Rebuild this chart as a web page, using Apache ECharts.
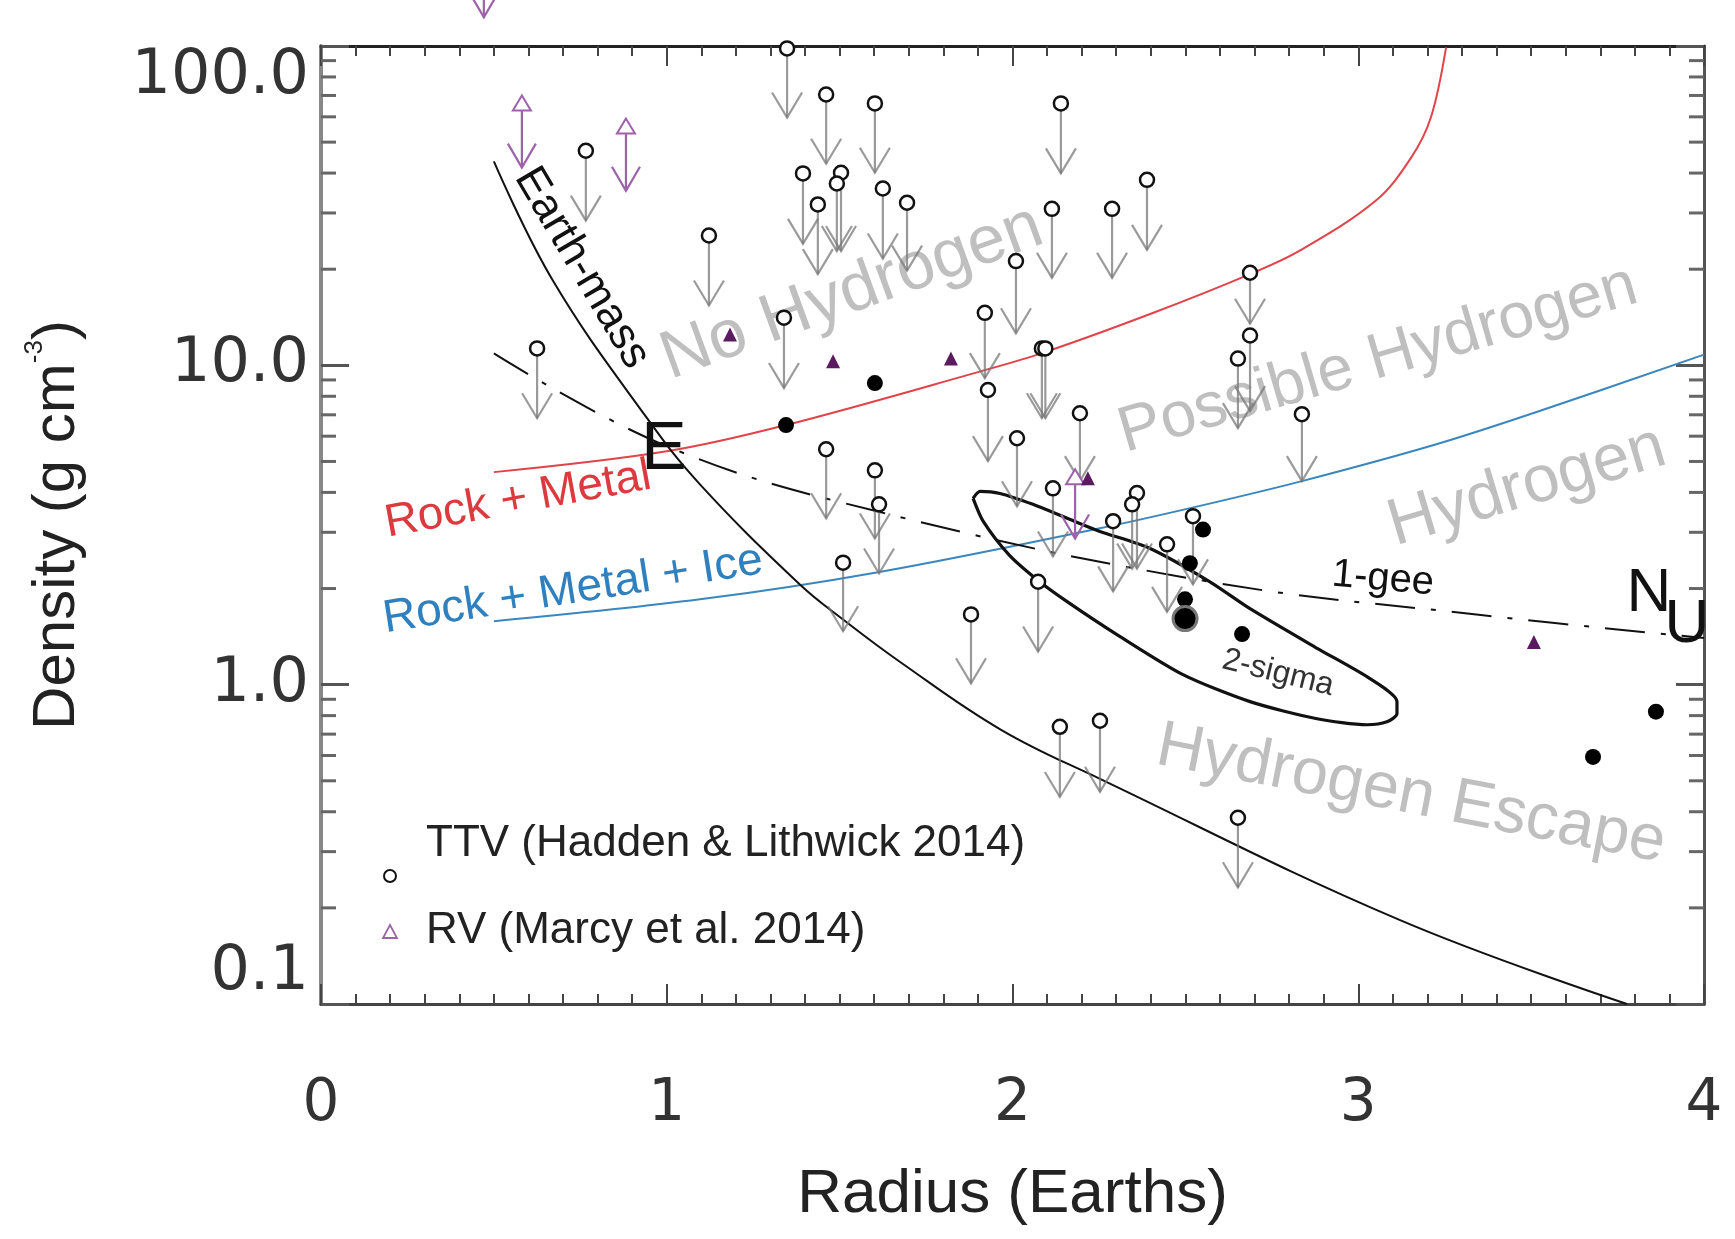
<!DOCTYPE html>
<html>
<head>
<meta charset="utf-8">
<style>
  html, body { margin: 0; padding: 0; background: #fff; }
  #chart { width: 1735px; height: 1239px; }
</style>
<script src="https://cdn.jsdelivr.net/npm/echarts@6/dist/echarts.min.js"></script>
</head>
<body>
<div id="chart"></div>
<script>
// TTV planets: radius, upper-limit density (circle) and where the arrow ends
const ttvRadius  = [0.625, 0.766, 1.122, 1.339, 1.348, 1.461, 1.394, 1.437, 1.504, 1.492, 1.602, 1.625, 1.695,
                    2.140, 2.114, 2.288, 2.389, 2.010, 1.920, 1.929, 2.085, 2.095, 2.687, 2.687, 2.652, 2.837,
                    2.195, 2.013, 1.461, 1.602, 1.614, 1.510, 1.880, 2.074, 2.117, 2.360, 2.346, 2.291, 2.447,
                    2.522, 2.137, 2.253, 2.652];
const ttvDensity = [11.3, 47.0, 25.5, 14.1, 98.3, 70.5, 39.9, 31.9, 40.1, 37.1, 66.1, 35.8, 32.3,
                    66.1, 30.9, 30.9, 38.1, 21.2, 14.6, 8.37, 11.3, 11.3, 19.5, 12.4, 10.5, 7.03,
                    7.08, 5.91, 5.46, 4.69, 3.67, 2.41, 1.66, 2.10, 4.12, 3.98, 3.67, 3.25, 2.75,
                    3.37, 0.738, 0.771, 0.383];
const ttvLimit   = [6.83, 28.4, 15.4, 8.49, 59.7, 42.8, 24.0, 19.3, 22.8, 22.8, 40.1, 21.6, 19.8,
                    39.9, 18.8, 18.8, 23.0, 12.6, 9.12, 5.01, 6.83, 6.83, 13.5, 7.19, 6.36, 4.34,
                    4.34, 3.62, 3.32, 2.87, 2.23, 1.47, 1.01, 1.27, 2.52, 2.31, 2.31, 1.96, 1.69,
                    2.06, 0.445, 0.462, 0.232];

// measured planets (filled circles)
const solidRadius  = [1.345, 1.602, 2.551, 2.513, 2.499, 2.664, 3.861, 3.679];
const solidDensity = [6.50, 8.80, 3.06, 2.40, 1.85, 1.44, 0.823, 0.594];
const ringRadius  = [2.499];
const ringDensity = [1.61];

// RV planets (Marcy et al. 2014)
const rvRadius  = [1.183, 1.481, 1.822, 2.218, 3.508];
const rvDensity = [12.5, 10.3, 10.5, 4.43, 1.36];
const rvBarRadius = [0.471, 0.581, 0.882, 2.181];
const rvBarTop    = [200, 69.0, 58.4, 4.66];
const rvBarBottom = [123, 41.6, 35.2, 2.87];

// model curves
const rockMetalR   = [0.500, 1.000, 1.345, 1.920, 2.090, 2.400, 2.687, 2.832, 3.051, 3.153, 3.210, 3.254];
const rockMetalRho = [4.63, 5.38, 6.50, 9.66, 10.96, 14.5, 19.3, 22.9, 32.8, 44.7, 59.7, 99.0];
const iceR   = [0.500, 1.096, 1.611, 2.253, 2.542, 2.837, 3.216, 3.505, 4.000];
const iceRho = [1.58, 1.85, 2.25, 3.09, 3.63, 4.34, 5.62, 7.08, 10.8];
const earthMassR   = [0.500, 0.671, 0.943, 1.096, 1.385, 1.510, 1.674, 1.967, 2.253, 3.121, 3.777];
const earthMassRho = [43.5, 18.4, 6.83, 4.24, 2.06, 1.60, 1.18, 0.722, 0.507, 0.183, 0.100];
const oneGeeR   = [0.500, 1.000, 1.608, 2.571, 3.361, 4.000];
const oneGeeRho = [10.9, 5.58, 3.49, 2.10, 1.65, 1.40];
const sigmaR   = [1.886, 1.906, 1.964, 2.059, 2.158, 2.253, 2.398, 2.571, 2.687, 2.881, 3.034, 3.112,
                  3.112, 3.083, 3.025, 2.881, 2.687, 2.493, 2.302, 2.158, 2.074, 1.990, 1.915, 1.886];
const sigmaRho = [3.83, 4.03, 3.97, 3.67, 3.32, 3.02, 2.67, 2.10, 1.73, 1.30, 1.044, 0.885,
                  0.811, 0.765, 0.749, 0.782, 0.885, 1.075, 1.435, 1.82, 2.12, 2.55, 3.25, 3.83];

// axis ticks
const xTickLabels = ['0', '1', '2', '3', '4'];
const yMinorTicks = [0.2, 0.3, 0.4, 0.5, 0.6, 0.7, 0.8, 0.9, 2, 3, 4, 5, 6, 7, 8, 9, 20, 30, 40, 50, 60, 70, 80, 90];

const zip = (a, b) => a.map((v, i) => [v, b[i]]);
const SANS = 'Liberation Sans';
const PURPLE = '#9d62a9';
const ARROW = 'rgba(120,120,120,0.75)';

function renderTTV(params, api) {
  const top = api.coord([api.value(0), api.value(1)]);
  const tip = api.coord([api.value(0), api.value(2)]);
  const style = { stroke: ARROW, lineWidth: 2.2, fill: null };
  return {
    type: 'group',
    children: [
      { type: 'line', shape: { x1: top[0], y1: top[1] + 6, x2: tip[0], y2: tip[1] }, style },
      { type: 'polyline', shape: { points: [[tip[0] - 15, tip[1] - 25], [tip[0], tip[1]], [tip[0] + 15, tip[1] - 25]] }, style }
    ]
  };
}

function renderRVBar(params, api) {
  const top = api.coord([api.value(0), api.value(1)]);
  const bot = api.coord([api.value(0), api.value(2)]);
  const style = { stroke: PURPLE, lineWidth: 2.2, fill: null };
  return {
    type: 'group',
    children: [
      { type: 'line', shape: { x1: top[0], y1: top[1] + 12, x2: bot[0], y2: bot[1] }, style },
      { type: 'polyline', shape: { points: [[bot[0] - 14, bot[1] - 24], [bot[0], bot[1]], [bot[0] + 14, bot[1] - 24]] }, style },
      { type: 'polygon', shape: { points: [[top[0], top[1] - 2], [top[0] - 9, top[1] + 13], [top[0] + 9, top[1] + 13]] },
        style: { stroke: PURPLE, lineWidth: 2, fill: '#fff' } }
    ]
  };
}

function renderMinorY(params, api) {
  const cs = params.coordSys;
  const y = api.coord([0, api.value(1)])[1];
  const style = { stroke: '#666', lineWidth: 3 };
  return {
    type: 'group',
    children: [
      { type: 'line', shape: { x1: cs.x, y1: y, x2: cs.x + 15, y2: y }, style },
      { type: 'line', shape: { x1: cs.x + cs.width - 15, y1: y, x2: cs.x + cs.width, y2: y }, style }
    ]
  };
}

function grayText(text, x, y, rot, size) {
  return { type: 'text', x, y, rotation: rot * Math.PI / 180, z: 0,
    style: { text, x: 0, y: 0, align: 'center', verticalAlign: 'middle', font: `${size}px "${SANS}"`, fill: '#bfbfbf' } };
}
function plainText(text, x, y, rot, size, color) {
  return { type: 'text', x, y, rotation: rot * Math.PI / 180, z: 10,
    style: { text, x: 0, y: 0, align: 'center', verticalAlign: 'middle', font: `${size}px "${SANS}"`, fill: color } };
}

const xCommon = {
  type: 'value', min: 0, max: 4, interval: 1,
  axisLine: { onZero: false, lineStyle: { color: '#444', width: 3 } },
  axisTick: { inside: true, length: 20, lineStyle: { color: '#444', width: 2 } },
  minorTick: { show: true, splitNumber: 10, length: 10, lineStyle: { color: '#444', width: 2 } },
  splitLine: { show: false }
};
const yCommon = {
  type: 'log', logBase: 10, min: 0.1, max: 100,
  axisLine: { onZero: false, lineStyle: { color: '#888', width: 4 } },
  axisTick: { inside: true, length: 28, lineStyle: { color: '#555', width: 3 } },
  splitLine: { show: false }
};

const chart = echarts.init(document.getElementById('chart'));
chart.setOption({
  animation: false,
  backgroundColor: '#fff',
  grid: { left: 321, right: 31, top: 46, bottom: 235 },
  xAxis: [
    Object.assign({}, xCommon, {
      position: 'bottom',
      axisLabel: { margin: 72, fontSize: 58, fontFamily: 'DejaVu Sans', color: '#333', formatter: v => xTickLabels[v] },
      name: 'Radius (Earths)', nameLocation: 'middle', nameGap: 160,
      nameTextStyle: { fontSize: 62, fontFamily: SANS, color: '#222' }
    }),
    Object.assign({}, xCommon, { position: 'top', axisLabel: { show: false },
      axisLine: { onZero: false, lineStyle: { color: '#222', width: 3 } } })
  ],
  yAxis: [
    Object.assign({}, yCommon, {
      position: 'left',
      axisLabel: { margin: 12, fontSize: 62, fontFamily: 'DejaVu Sans', color: '#333',
        formatter: v => Number(v).toFixed(1), verticalAlignMaxLabel: 'top', verticalAlignMinLabel: 'bottom' },
      name: '{a|Density (g cm}{b|-3}{a|)}', nameLocation: 'middle', nameGap: 229, nameRotate: 90,
      nameTextStyle: { rich: {
        a: { fontSize: 60, fontFamily: SANS, color: '#222', lineHeight: 70 },
        b: { fontSize: 26, fontFamily: SANS, color: '#222', verticalAlign: 'top', lineHeight: 30 }
      } }
    }),
    Object.assign({}, yCommon, { position: 'right', axisLabel: { show: false },
      axisLine: { onZero: false, lineStyle: { color: '#555', width: 3 } } })
  ],
  graphic: [
    grayText('No Hydrogen', 852, 293, 20, 68),
    grayText('Possible Hydrogen', 1378, 360, 16.3, 64),
    grayText('Hydrogen', 1527, 487, 16.7, 66),
    grayText('Hydrogen Escape', 1411, 795, -11, 65),
    plainText('Rock + Metal', 518, 500, 10.4, 46, '#dc3a3e'),
    plainText('Rock + Metal + Ice', 573, 590, 8.9, 46, '#2f80bf'),
    plainText('Earth-mass', 582, 268, -59.4, 44, '#111'),
    plainText('E', 664, 450, 0, 68, '#111'),
    plainText('N', 1649, 594, 0, 62, '#111'),
    plainText('U', 1687, 625, 0, 62, '#111'),
    plainText('1-gee', 1383, 579, -5, 40, '#111'),
    plainText('2-sigma', 1278, 673, -14, 32, '#333'),
    { type: 'circle', shape: { cx: 390, cy: 876, r: 6 }, style: { fill: '#fff', stroke: '#111', lineWidth: 2 }, z: 10 },
    { type: 'text', x: 426, y: 844, z: 10, style: { text: 'TTV (Hadden & Lithwick 2014)', align: 'left', verticalAlign: 'middle',
      font: `44px "${SANS}"`, fill: '#222' } },
    { type: 'polygon', shape: { points: [[390, 925], [383, 938], [397, 938]] }, style: { fill: '#fff', stroke: PURPLE, lineWidth: 1.8 }, z: 10 },
    { type: 'text', x: 426, y: 931, z: 10, style: { text: 'RV (Marcy et al. 2014)', align: 'left', verticalAlign: 'middle',
      font: `44px "${SANS}"`, fill: '#222' } }
  ],
  series: [
    { type: 'custom', renderItem: renderMinorY, data: yMinorTicks.map(v => [0, v]), encode: { x: 0, y: 1 }, silent: true, z: 3 },
    { name: 'Rock + Metal', type: 'line', data: zip(rockMetalR, rockMetalRho), smooth: 0.35, symbol: 'none',
      lineStyle: { color: '#e0444a', width: 2 }, z: 2 },
    { name: 'Rock + Metal + Ice', type: 'line', data: zip(iceR, iceRho), smooth: 0.35, symbol: 'none',
      lineStyle: { color: '#3a86bf', width: 2 }, z: 2 },
    { name: 'Earth-mass', type: 'line', data: zip(earthMassR, earthMassRho), smooth: 0.4, symbol: 'none',
      lineStyle: { color: '#111', width: 2 }, z: 2 },
    { name: '1-gee', type: 'line', data: zip(oneGeeR, oneGeeRho), smooth: 0.4, symbol: 'none',
      lineStyle: { color: '#111', width: 2, type: [40, 16, 5, 16] }, z: 2 },
    { name: '2-sigma', type: 'line', data: zip(sigmaR, sigmaRho), smooth: 0.25, symbol: 'none',
      lineStyle: { color: '#111', width: 3.2 }, z: 2 },
    { name: 'TTV limits', type: 'custom', renderItem: renderTTV,
      data: ttvRadius.map((r, i) => [r, ttvDensity[i], ttvLimit[i]]), encode: { x: 0, y: [1, 2] }, silent: true, z: 4 },
    { name: 'TTV', type: 'scatter', data: zip(ttvRadius, ttvDensity), symbol: 'circle', symbolSize: 14,
      itemStyle: { color: '#fff', borderColor: '#111', borderWidth: 2.5, opacity: 1 }, z: 5 },
    { name: 'measured', type: 'scatter', data: zip(solidRadius, solidDensity), symbol: 'circle', symbolSize: 16,
      itemStyle: { color: '#000', opacity: 1 }, z: 6 },
    { name: 'ringed', type: 'scatter', data: zip(ringRadius, ringDensity), symbol: 'circle', symbolSize: 24,
      itemStyle: { color: '#000', borderColor: '#777', borderWidth: 3, opacity: 1 }, z: 6 },
    { name: 'RV bars', type: 'custom', renderItem: renderRVBar, clip: false,
      data: rvBarRadius.map((r, i) => [r, rvBarTop[i], rvBarBottom[i]]), encode: { x: 0, y: [1, 2] }, silent: true, z: 6 },
    { name: 'RV', type: 'scatter', data: zip(rvRadius, rvDensity), symbol: 'triangle', symbolSize: 14,
      itemStyle: { color: '#5a1c5f', opacity: 1 }, z: 7 }
  ]
});
</script>
</body>
</html>
